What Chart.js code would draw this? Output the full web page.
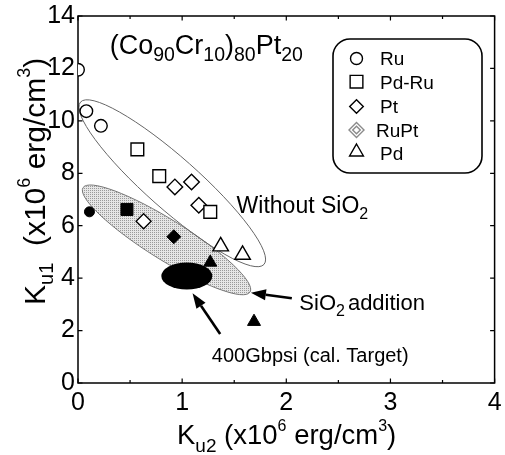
<!DOCTYPE html>
<html><head><meta charset="utf-8">
<script src="https://cdn.jsdelivr.net/npm/chart.js@4/dist/chart.umd.min.js"></script>
<style>html,body{margin:0;padding:0;background:#fff}canvas{display:block}</style>
</head><body>
<canvas id="c" width="505" height="455"></canvas>
<script>
const FAM = '"Liberation Sans", Arial, Helvetica, sans-serif';

// ---------------- data ----------------
const xTickValues = [0, 1, 2, 3, 4];
const yTickValues = [0, 2, 4, 6, 8, 10, 12, 14];
const legendNames = ['Ru', 'Pd-Ru', 'Pt', 'RuPt', 'Pd'];
// without SiO2 (open markers)
const ruX   = [0.00, 0.08, 0.22];
const ruY   = [11.95, 10.37, 9.81];
const pdRuX = [0.57, 0.78, 1.27];
const pdRuY = [8.91, 7.89, 6.53];
const ptX   = [0.93, 1.09, 1.16];
const ptY   = [7.48, 7.67, 6.78];
const pdX   = [1.37, 1.58];
const pdY   = [5.21, 4.89];
// with SiO2 addition (filled markers)
const ruSiX   = [0.11];  const ruSiY   = [6.53];
const pdRuSiX = [0.47];  const pdRuSiY = [6.62];
const ptSiX   = [0.92];  const ptSiY   = [5.58];
const ruPtX   = [0.63];  const ruPtY   = [6.17];
const pdSiX   = [1.27, 1.69];
const pdSiY   = [4.60, 2.34];

// ---------------- annotation geometry ----------------
const outerEll  = { x: 0.905, y: 7.62, a: 122.5, b: 26, rot: 41.5 };
const shadedEll = { x: 0.850, y: 5.46, a: 98.5, b: 20, rot: 32 };
const targetEll = { x: 1.045, y: 4.08, a: 25.5, b: 13.5, rot: 0 };
const arrow1 = { x1: 2.053, y1: 3.23, x2: 1.66, y2: 3.44 };
const arrow2 = { x1: 1.365, y1: 1.87, x2: 1.10, y2: 3.42 };

function pts(xs, ys) { return xs.map((x, i) => ({ x: x, y: ys[i] })); }
function ds(label, xs, ys, style, r, fill, stroke, bw) {
  return { label: label, data: pts(xs, ys), pointStyle: style, pointRadius: r, pointHoverRadius: r,
    pointBackgroundColor: fill, pointBorderColor: stroke, pointBorderWidth: bw, showLine: false };
}

const datasets = [
  ds('Ru', ruX, ruY, 'circle', 6.3, '#fff', '#000', 1.4),
  ds('Pd-Ru', pdRuX, pdRuY, 'rect', 9, '#fff', '#000', 1.4),
  ds('Pt', ptX, ptY, 'rectRot', 7.8, '#fff', '#000', 1.4),
  ds('Pd', pdX, pdY, 'triangle', 9, '#fff', '#000', 1.4),
  ds('Ru + SiO2', ruSiX, ruSiY, 'circle', 5, '#000', '#000', 1),
  ds('Pd-Ru + SiO2', pdRuSiX, pdRuSiY, 'rect', 8.5, '#000', '#000', 1),
  ds('Pt + SiO2', ptSiX, ptSiY, 'rectRot', 7, '#000', '#000', 1),
  ds('RuPt', ruPtX, ruPtY, 'rectRot', 7.5, '#fff', '#000', 1.3),
  ds('RuPt inner', ruPtX, ruPtY, 'rectRot', 3.6, '#fff', '#000', 1.3),
  ds('Pd + SiO2', pdSiX, pdSiY, 'triangle', 7.5, '#000', '#000', 1)
];

// stipple pattern for the shaded ellipse
const pc = document.createElement('canvas'); pc.width = 2; pc.height = 2;
const pg = pc.getContext('2d');
pg.fillStyle = '#e6e6e6'; pg.fillRect(0, 0, 2, 2);
pg.fillStyle = '#9a9a9a'; pg.fillRect(0, 0, 1, 1);

function rich(ctx, x, y, parts, main, sub, sup) {
  let cx = x;
  for (const p of parts) {
    let size = main, dy = 0;
    if (p.k === 'sub') { size = sub.size; dy = sub.dy; }
    else if (p.k === 'sup') { size = sup.size; dy = sup.dy; }
    cx += (p.dx || 0);
    ctx.font = size + 'px ' + FAM;
    ctx.fillText(p.t, cx, y + dy);
    cx += ctx.measureText(p.t).width;
  }
}
function drawArrow(ctx, x1, y1, x2, y2, lw, hl, hw) {
  const ang = Math.atan2(y2 - y1, x2 - x1);
  const bx = x2 - hl * Math.cos(ang), by = y2 - hl * Math.sin(ang);
  ctx.lineWidth = lw; ctx.beginPath(); ctx.moveTo(x1, y1); ctx.lineTo(bx, by); ctx.stroke();
  ctx.beginPath(); ctx.moveTo(x2, y2);
  ctx.lineTo(bx + hw / 2 * Math.sin(ang), by - hw / 2 * Math.cos(ang));
  ctx.lineTo(bx - hw / 2 * Math.sin(ang), by + hw / 2 * Math.cos(ang));
  ctx.closePath(); ctx.fill();
}
function marker(ctx, style, x, y, r) {
  ctx.beginPath();
  if (style === 'circle') ctx.arc(x, y, r, 0, Math.PI * 2);
  else if (style === 'rect') { const s = r * Math.SQRT1_2; ctx.rect(x - s, y - s, 2 * s, 2 * s); }
  else if (style === 'rectRot') { ctx.moveTo(x - r, y); ctx.lineTo(x, y - r); ctx.lineTo(x + r, y); ctx.lineTo(x, y + r); ctx.closePath(); }
  else if (style === 'triangle') {
    let a = 0; ctx.moveTo(x + Math.sin(a) * r, y - Math.cos(a) * r);
    a += 2 * Math.PI / 3; ctx.lineTo(x + Math.sin(a) * r, y - Math.cos(a) * r);
    a += 2 * Math.PI / 3; ctx.lineTo(x + Math.sin(a) * r, y - Math.cos(a) * r);
    ctx.closePath();
  }
  ctx.fill(); ctx.stroke();
}
function roundRect(ctx, x, y, w, h, r) {
  ctx.beginPath();
  ctx.moveTo(x + r, y); ctx.lineTo(x + w - r, y); ctx.arcTo(x + w, y, x + w, y + r, r);
  ctx.lineTo(x + w, y + h - r); ctx.arcTo(x + w, y + h, x + w - r, y + h, r);
  ctx.lineTo(x + r, y + h); ctx.arcTo(x, y + h, x, y + h - r, r);
  ctx.lineTo(x, y + r); ctx.arcTo(x, y, x + r, y, r); ctx.closePath();
}

const decor = {
  id: 'decor',
  beforeDatasetsDraw(chart) {
    const ctx = chart.ctx, sx = chart.scales.x, sy = chart.scales.y;
    const ell = (e) => { ctx.beginPath(); ctx.ellipse(sx.getPixelForValue(e.x), sy.getPixelForValue(e.y), e.a, e.b, e.rot * Math.PI / 180, 0, Math.PI * 2); };
    ctx.save();
    ell(shadedEll); ctx.fillStyle = ctx.createPattern(pc, 'repeat'); ctx.fill();
    ctx.strokeStyle = '#777'; ctx.lineWidth = 1; ctx.stroke();
    ell(outerEll); ctx.strokeStyle = '#666'; ctx.lineWidth = 1; ctx.stroke();
    ell(targetEll); ctx.fillStyle = '#000'; ctx.fill();
    // frame
    const ca = chart.chartArea;
    ctx.strokeStyle = '#000'; ctx.lineWidth = 1.5;
    ctx.strokeRect(ca.left, ca.top, ca.right - ca.left, ca.bottom - ca.top);
    // inward ticks
    ctx.lineWidth = 1.2;
    ctx.beginPath();
    for (let v = 0; v <= 4.001; v += 0.5) {
      const p = sx.getPixelForValue(v), L = (Math.abs(v - Math.round(v)) < 1e-6) ? 4.5 : 3;
      ctx.moveTo(p, ca.bottom); ctx.lineTo(p, ca.bottom - L);
      ctx.moveTo(p, ca.top); ctx.lineTo(p, ca.top + L);
    }
    for (const v of yTickValues) {
      const p = sy.getPixelForValue(v);
      ctx.moveTo(ca.left, p); ctx.lineTo(ca.left + 4.5, p);
      ctx.moveTo(ca.right, p); ctx.lineTo(ca.right - 4.5, p);
    }
    ctx.stroke();
    ctx.restore();
  },
  afterDraw(chart) {
    const ctx = chart.ctx, sx = chart.scales.x, sy = chart.scales.y;
    const X = v => sx.getPixelForValue(v), Y = v => sy.getPixelForValue(v);
    ctx.save();
    ctx.fillStyle = '#000'; ctx.strokeStyle = '#000';
    ctx.textBaseline = 'alphabetic'; ctx.textAlign = 'left';
    // arrows
    drawArrow(ctx, X(arrow1.x1), Y(arrow1.y1), X(arrow1.x2), Y(arrow1.y2), 2.6, 15, 11);
    drawArrow(ctx, X(arrow2.x1), Y(arrow2.y1), X(arrow2.x2), Y(arrow2.y2), 2.6, 15, 11);
    // texts inside plot
    rich(ctx, X(0.304), Y(12.55), [{t:'(Co'},{t:'90',k:'sub'},{t:'Cr'},{t:'10',k:'sub'},{t:')'},{t:'80',k:'sub'},{t:'Pt'},{t:'20',k:'sub'}],
      27, {size: 19.5, dy: 7}, {size: 15, dy: -10});
    rich(ctx, X(1.523), Y(6.48), [{t:'Without SiO'},{t:'2',k:'sub'}], 23, {size: 16, dy: 6}, {size: 15, dy: -10});
    rich(ctx, X(2.125), Y(2.79), [{t:'SiO'},{t:'2',k:'sub'},{t:'addition', dx: 3}], 22, {size: 16, dy: 6}, {size: 15, dy: -10});
    rich(ctx, X(1.285), Y(0.81), [{t:'400Gbpsi (cal. Target)'}], 20, {size: 14, dy: 5}, {size: 14, dy: -8});
    // axis titles
    rich(ctx, 177, 444, [{t:'K'},{t:'u2',k:'sub'},{t:' (x10'},{t:'6',k:'sup'},{t:' erg/cm'},{t:'3',k:'sup'},{t:')'}],
      27.5, {size: 19, dy: 8}, {size: 16, dy: -13});
    ctx.save(); ctx.translate(45, 305); ctx.rotate(-Math.PI / 2);
    rich(ctx, 0, 0, [{t:'K'},{t:'u1',k:'sub'},{t:'  (x10'},{t:'6',k:'sup'},{t:' erg/cm'},{t:'3',k:'sup'},{t:')'}],
      30, {size: 20, dy: 8}, {size: 18, dy: -15});
    ctx.restore();
    // legend
    ctx.lineWidth = 1.6; ctx.strokeStyle = '#000';
    roundRect(ctx, 333, 39, 149, 134, 17); ctx.stroke();
    const rows = [
      { style: 'circle', r: 6, y: 58.5, ty: 64.5, tx: 380 },
      { style: 'rect', r: 9, y: 81.7, ty: 88.5, tx: 380 },
      { style: 'rectRot', r: 6.8, y: 106.5, ty: 112.5, tx: 380 },
      { style: 'rectRot', r: 7.5, y: 130, ty: 137, tx: 376, gray: true },
      { style: 'triangle', r: 8, y: 152, ty: 160, tx: 380 }
    ];
    ctx.font = '19px ' + FAM;
    rows.forEach((row, i) => {
      ctx.fillStyle = '#fff';
      ctx.strokeStyle = row.gray ? '#8a8a8a' : '#000';
      ctx.lineWidth = 1.4;
      marker(ctx, row.style, 356.5, row.y, row.r);
      if (row.gray) marker(ctx, row.style, 356.5, row.y, 3.8);
      ctx.fillStyle = '#000';
      ctx.fillText(legendNames[i], row.tx, row.ty);
    });
    ctx.restore();
  }
};

new Chart(document.getElementById('c'), {
  type: 'scatter',
  data: { datasets: datasets },
  plugins: [decor],
  options: {
    responsive: false, animation: false, events: [],
    layout: { padding: { top: 16, right: 6, left: 0, bottom: 0 } },
    plugins: { legend: { display: false }, tooltip: { enabled: false } },
    scales: {
      x: {
        type: 'linear', min: 0, max: 4,
        afterBuildTicks: s => { s.ticks = xTickValues.map(v => ({ value: v })); },
        ticks: { color: '#000', font: { size: 25, family: FAM }, padding: 5, maxRotation: 0 },
        grid: { display: false, drawTicks: false }, border: { display: false },
        afterFit: s => { s.height = 72; s.paddingLeft = 0; s.paddingRight = 0; }
      },
      y: {
        type: 'linear', min: 0, max: 14,
        afterBuildTicks: s => { s.ticks = yTickValues.map(v => ({ value: v })); },
        ticks: { color: '#000', font: { size: 25, family: FAM }, padding: 3 },
        grid: { display: false, drawTicks: false }, border: { display: false },
        afterFit: s => { s.width = 78; s.paddingTop = 0; s.paddingBottom = 0; }
      }
    }
  }
});
</script>
</body></html>
